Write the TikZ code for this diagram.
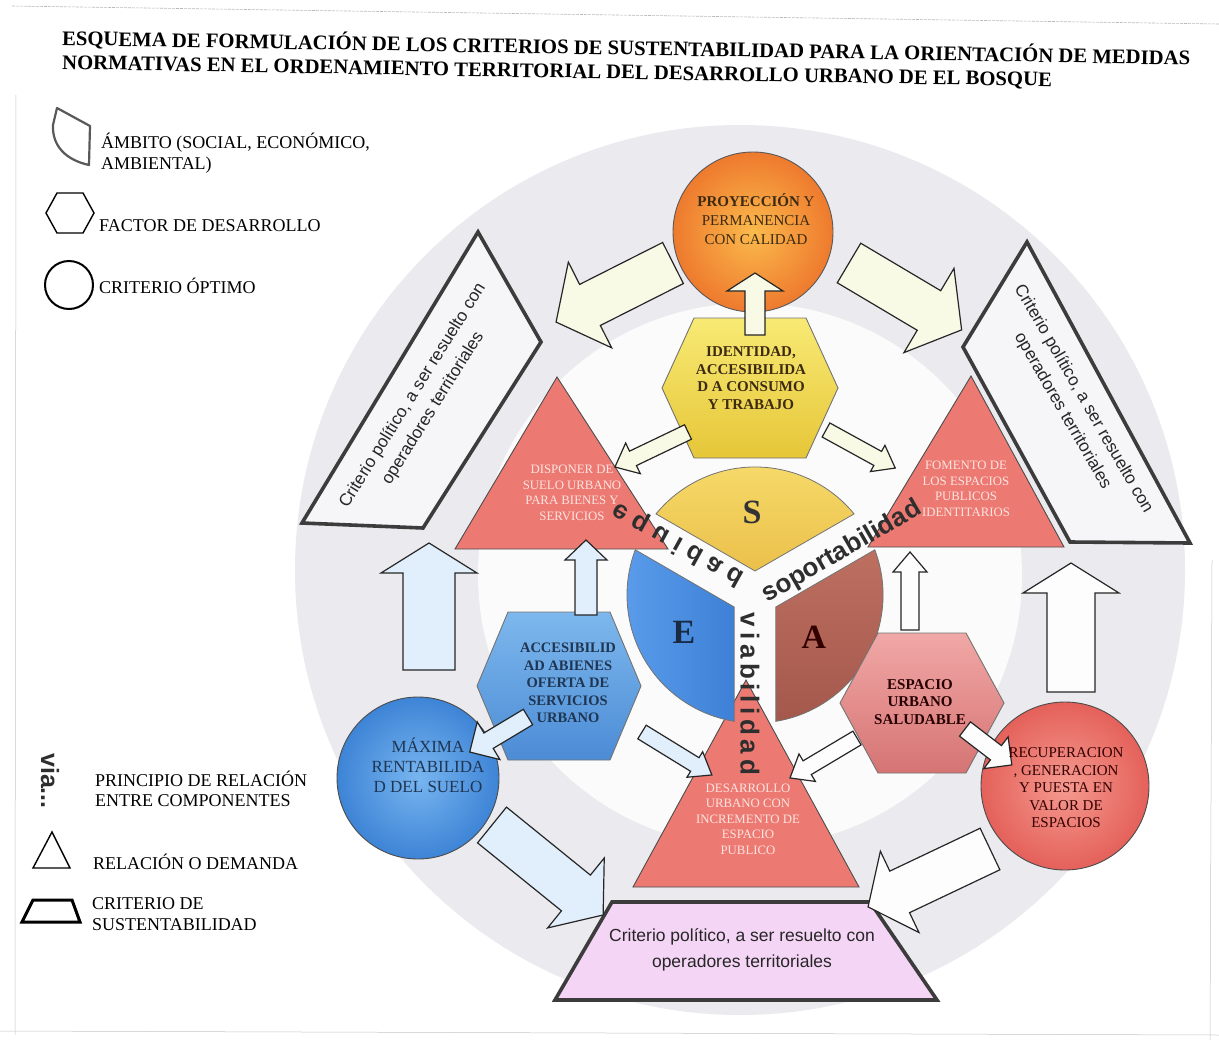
\documentclass[tikz,border=0pt]{standalone}
\usepackage{fontspec}
\usepackage{graphicx}
\setmainfont{Liberation Serif}
\newfontfamily\sansf{Liberation Sans}
\newcommand\fs[2]{\fontsize{#1}{#2}\selectfont}

\definecolor{ringc}{HTML}{EBEBEF}
\definecolor{innerc}{HTML}{FBFBFC}
\definecolor{critfill}{HTML}{F6F6F8}
\definecolor{critdraw}{HTML}{3C3C3C}
\definecolor{cream}{HTML}{F8FAE6}
\definecolor{paleblue}{HTML}{E0EFFB}
\definecolor{offwhite}{HTML}{FDFDFD}
\definecolor{trired}{HTML}{EC7A72}
\definecolor{tritext}{HTML}{FDE4E1}
\definecolor{orin}{HTML}{FBBA4C}
\definecolor{orout}{HTML}{EE7A2E}
\definecolor{ylwtop}{HTML}{F8EA74}
\definecolor{ylwbot}{HTML}{E6C638}
\definecolor{stop}{HTML}{F6DA6A}
\definecolor{sbot}{HTML}{EBC04A}
\definecolor{etop}{HTML}{5A9CEA}
\definecolor{ebot}{HTML}{3E80D6}
\definecolor{atop}{HTML}{BD7060}
\definecolor{abot}{HTML}{A4584C}
\definecolor{bhtop}{HTML}{7DB7EC}
\definecolor{bhbot}{HTML}{4C8CD6}
\definecolor{phtop}{HTML}{F0A8A6}
\definecolor{phbot}{HTML}{D67474}
\definecolor{maxin}{HTML}{78B6F0}
\definecolor{maxout}{HTML}{3E84D6}
\definecolor{recin}{HTML}{F59A90}
\definecolor{recout}{HTML}{E4615A}
\definecolor{pinkfill}{HTML}{F5D5F5}
\definecolor{navytxt}{HTML}{1F3552}
\definecolor{browntxt}{HTML}{3C2A12}
\definecolor{ribbon}{HTML}{2E2E2E}

% block arrow: tail x, tail y, visual angle, length, shaft half, head half, head length, fill
\newcommand\barrow[8]{%
  \begin{scope}[shift={(#1,#2)},rotate=#3]
    \draw[barr,fill=#8] (0,{-#5}) -- ({#4-#7},{-#5}) -- ({#4-#7},{-#6}) -- (#4,0)
      -- ({#4-#7},{#6}) -- ({#4-#7},{#5}) -- (0,{#5}) -- cycle;
  \end{scope}}
% hexagon: cx, cy, half width, half height, top half width, style
\newcommand\hexa[6]{%
  \path[#6] ({#1-#3},#2) -- ({#1-#5},{#2-#4}) -- ({#1+#5},{#2-#4}) -- ({#1+#3},#2)
    -- ({#1+#5},{#2+#4}) -- ({#1-#5},{#2+#4}) -- cycle;}

\tikzset{
  crit/.style={draw=critdraw, line width=3.6pt, fill=critfill, line join=miter},
  barr/.style={draw=black!85, line width=1.2pt, line join=miter},
  tri/.style={draw=black!70, line width=0.9pt, fill=trired},
  secb/.style={draw=black!55, line width=0.8pt},
  hexb/.style={draw=black!55, line width=0.9pt},
  legtxt/.style={font=\fs{18}{20.5}, anchor=west, align=left, inner sep=0pt},
  crittxt/.style={font=\sansf\fs{17.2}{24}, align=center, text=black!85},
  tritxt/.style={font=\fs{12.8}{15.5}, align=center, text=tritext},
  hextxt/.style={font=\bfseries\fs{15}{17.5}, align=center},
  ribtxt/.style={text=ribbon},
  bigletter/.style={font=\bfseries\fs{34}{36}},
}

\begin{document}
\begin{tikzpicture}[x=1pt,y=-1pt]
\useasboundingbox (0,0) rectangle (1219,1047);
\fill[white] (0,0) rectangle (1219,1047);

% scan borders
\draw[gray!55, line width=0.6pt, dash pattern=on 3pt off 1pt] (12,6) -- (1219,24);
\draw[gray!45, line width=0.5pt] (16,95) -- (15,1035);
\draw[gray!45, line width=0.5pt] (1212,560) -- (1210,1040);
\draw[gray!45, line width=0.5pt] (0,1031) -- (1219,1035);

% title
\node[font=\bfseries\fs{20.7}{24}, anchor=west, rotate=-1, inner sep=0pt] (title1) at (62,38)
  {ESQUEMA DE FORMULACIÓN DE LOS CRITERIOS DE SUSTENTABILIDAD PARA LA ORIENTACIÓN DE MEDIDAS};
\node[font=\bfseries\fs{20.7}{24}, anchor=west, rotate=-1, inner sep=0pt] (title2) at (62,64)
  {NORMATIVAS EN EL ORDENAMIENTO TERRITORIAL DEL DESARROLLO URBANO DE EL BOSQUE};

% legend
\draw[black!65, line width=2.2pt, line join=round] (57,108) -- (90,126) -- (89,165)
  .. controls (66,160) and (52,146) .. (53,125) -- cycle;
\node[legtxt] (legA) at (101,153) {ÁMBITO (SOCIAL, ECONÓMICO,\\AMBIENTAL)};
\hexa{70}{213}{24}{20}{13}{draw=black, line width=1.4pt}
\node[legtxt] (legF) at (99,226) {FACTOR DE DESARROLLO};
\draw[black, line width=2pt] (69,285) circle[radius=24];
\node[legtxt] (legC) at (99,286) {CRITERIO ÓPTIMO};
\node[font=\sansf\bfseries\fs{25}{27}, rotate=-90, text=ribbon] (legV) at (50,781) {via...};
\node[legtxt] (legP) at (95,789) {PRINCIPIO DE RELACIÓN\\ENTRE COMPONENTES};
\draw[black, line width=1.4pt] (52,832) -- (33,868) -- (70,868) -- cycle;
\node[legtxt] (legR) at (93,862) {RELACIÓN O DEMANDA};
\draw[black, line width=3pt, line join=miter] (33,900) -- (72,900) -- (80,922) -- (22,922) -- cycle;
\node[legtxt] (legS) at (92,914) {CRITERIO DE\\SUSTENTABILIDAD};

% background discs
\fill[ringc] (740,570) circle[radius=445];
\fill[innerc] (750,575) circle[radius=272];

% criterio shapes
\draw[crit] (478,232) -- (541,342) -- (423,528) -- (302,523) -- cycle;
\draw[crit] (1027,242) -- (963,347) -- (1070,542) -- (1190,543) -- cycle;
\draw[crit, fill=pinkfill] (612,902) -- (870,902) -- (937,1000) -- (555,1000) -- cycle;

% big arrows
\barrow{673}{263}{-153.2}{131}{23}{48}{38}{cream}
\barrow{849}{263}{-30.7}{131}{23}{49}{38}{cream}
\barrow{429}{670}{90}{127}{26}{48}{30}{paleblue}
\barrow{1071}{692}{90}{129}{24}{48}{30}{offwhite}
\barrow{492}{825}{-39}{143}{23}{45}{35}{paleblue}
\barrow{990}{849}{-154.6}{135}{23}{45}{35}{offwhite}

% triangles
\draw[tri] (557,377) -- (455,549) -- (668,549) -- cycle;
\draw[tri] (971,376) -- (868,547) -- (1064,547) -- cycle;
\draw[tri] (746,680) -- (633,887) -- (859,887) -- cycle;

% sectors S E A
\path[secb, top color=stop, bottom color=sbot] (755,571) -- (656,513.9)
  arc[start angle=219.3, end angle=320.7, radius=128] -- cycle;
\path[secb, left color=etop, right color=ebot] (734.2,607) -- (734.2,721.3)
  arc[start angle=99.35, end angle=200.7, radius=128] -- cycle;
\path[secb, top color=atop, bottom color=abot] (775.8,607) -- (874.8,549.8)
  arc[start angle=-20.7, end angle=80.65, radius=128] -- cycle;

% hexagons
\hexa{750}{388}{88}{70}{56}{hexb, top color=ylwtop, bottom color=ylwbot}
\hexa{559}{686}{82}{74}{51}{hexb, top color=bhtop, bottom color=bhbot}
\hexa{922}{703}{82}{70}{44}{hexb, top color=phtop, bottom color=phbot}

% circles
\node[circle, minimum size=160pt, inner sep=0pt, draw=black!65, line width=0.9pt,
      inner color=orin, outer color=orout] (proy) at (753,232) {};
\node[circle, minimum size=162pt, inner sep=0pt, draw=black!70, line width=0.9pt,
      inner color=maxin, outer color=maxout] (maxc) at (418,778) {};
\node[circle, minimum size=168pt, inner sep=0pt, draw=black!70, line width=0.9pt,
      inner color=recin, outer color=recout] (recc) at (1065,786) {};

% small arrows
\barrow{755}{335}{90}{62}{10}{28}{18}{cream}
\barrow{688}{432}{-154.4}{81}{8}{17}{20}{cream}
\barrow{826}{430}{-28.8}{79}{8}{15}{20}{cream}
\barrow{586}{615}{90}{75}{11}{21}{20}{paleblue}
\barrow{528}{717}{-149}{68}{9}{22}{22}{paleblue}
\barrow{642}{732}{-31.6}{82}{8}{15}{20}{paleblue}
\barrow{857}{738}{-149.2}{78}{8}{16}{20}{offwhite}
\barrow{965}{729}{-37.5}{59}{9}{20}{20}{offwhite}
\barrow{910}{630}{90}{78}{9}{17}{20}{offwhite}

% texts in criterio shapes
\node[crittxt, rotate=58] (critL) at (423,402)
  {Criterio político, a ser resuelto con\\operadores territoriales};
\node[crittxt, rotate=-60] (critR) at (1073,405)
  {Criterio político, a ser resuelto con\\operadores territoriales};
\node[crittxt, font=\sansf\fs{17.5}{26}] (critB) at (742,950)
  {Criterio político, a ser resuelto con\\operadores territoriales};

% triangle texts
\node[tritxt] (triL) at (572,493) {DISPONER DE\\SUELO URBANO\\PARA BIENES Y\\SERVICIOS};
\node[tritxt] (triR) at (966,489) {FOMENTO DE\\LOS ESPACIOS\\PUBLICOS\\IDENTITARIOS};
\node[tritxt] (triB) at (748,819) {DESARROLLO\\URBANO CON\\INCREMENTO DE\\ESPACIO\\PUBLICO};

% hexagon and circle texts
\node[hextxt, text=browntxt] (hexY) at (751,378) {IDENTIDAD,\\ACCESIBILIDA\\D A CONSUMO\\Y TRABAJO};
\node[hextxt, font=\bfseries\fs{14.5}{17.5}, text=navytxt] (hexB) at (568,683) {ACCESIBILID\\AD ABIENES\\OFERTA DE\\SERVICIOS\\URBANO};
\node[hextxt, text=black!75!red!60!black] (hexP) at (920,702) {ESPACIO\\URBANO\\SALUDABLE};
\node[font=\fs{15}{19}, align=center, text=browntxt] (proyT) at (756,219)
  {\textbf{PROYECCIÓN} Y\\PERMANENCIA\\CON CALIDAD};
\node[font=\fs{17}{20}, align=center, text=navytxt] (maxT) at (428,765)
  {MÁXIMA\\RENTABILIDA\\D DEL SUELO};
\node[font=\fs{15}{17.5}, align=center, text=black!80!red] (recT) at (1066,788)
  {RECUPERACION\\, GENERACION\\Y PUESTA EN\\VALOR DE\\ESPACIOS};

% sector letters
\node[bigletter, text=black!80] (lS) at (752,512) {S};
\node[bigletter, text=navytxt!80!black] (lE) at (684,632) {E};
\node[bigletter, text=black!80!red] (lA) at (814,637) {A};

% ribbon words
\node[ribtxt, rotate=30, font=\sansf\bfseries\fs{26}{28}] (wSop) at (842,552) {soportabilidad};
\node[ribtxt, rotate=-90, font=\sansf\bfseries\fs{26}{28}\addfontfeature{LetterSpace=18}] (wVia) at (750,694) {viabilidad};
\node[ribtxt, rotate=-29, font=\sansf\bfseries\fs{26}{28}\addfontfeature{LetterSpace=30}] (wEqu) at (678,544) {\scalebox{1}[-1]{equidad}};
\end{tikzpicture}
\end{document}
